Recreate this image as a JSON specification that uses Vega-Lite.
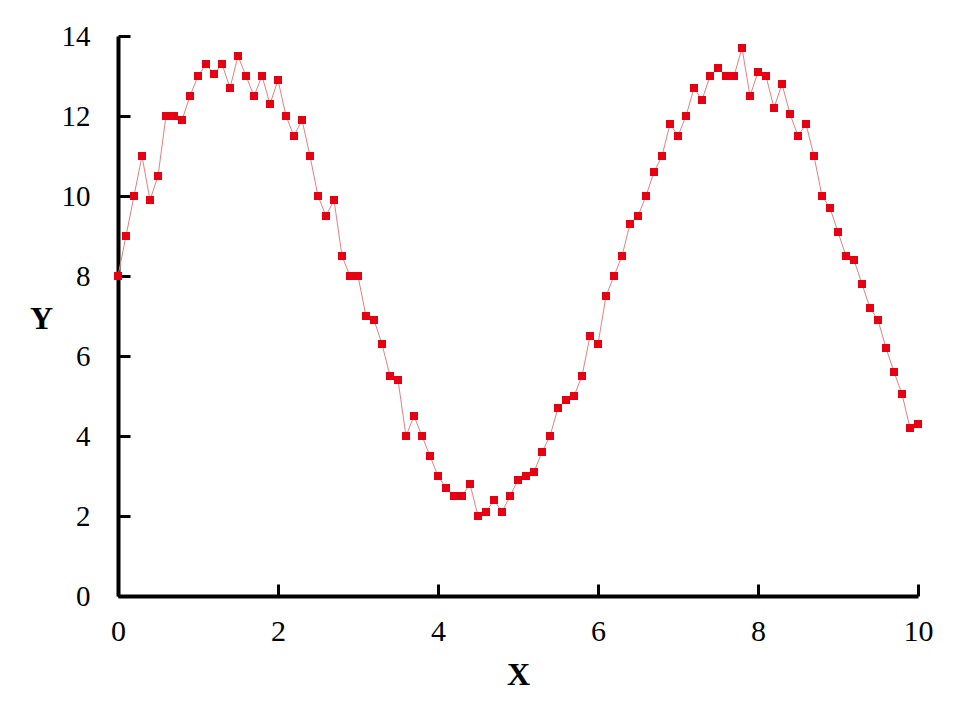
{
  "$schema": "https://vega.github.io/schema/vega-lite/v6.json",
  "width": 800,
  "height": 560,
  "autosize": {"type": "none"},
  "padding": {"left": 118, "top": 36, "right": 42, "bottom": 124},
  "background": "white",
  "config": {"view": {"stroke": null}},
  "data": {"values": [
    {"x": 0.0, "y": 8}, {"x": 0.1, "y": 9}, {"x": 0.2, "y": 10}, {"x": 0.3, "y": 11}, {"x": 0.4, "y": 9.9},
    {"x": 0.5, "y": 10.5}, {"x": 0.6, "y": 12}, {"x": 0.7, "y": 12}, {"x": 0.8, "y": 11.9}, {"x": 0.9, "y": 12.5},
    {"x": 1.0, "y": 13}, {"x": 1.1, "y": 13.3}, {"x": 1.2, "y": 13.05}, {"x": 1.3, "y": 13.3}, {"x": 1.4, "y": 12.7},
    {"x": 1.5, "y": 13.5}, {"x": 1.6, "y": 13}, {"x": 1.7, "y": 12.5}, {"x": 1.8, "y": 13}, {"x": 1.9, "y": 12.3},
    {"x": 2.0, "y": 12.9}, {"x": 2.1, "y": 12}, {"x": 2.2, "y": 11.5}, {"x": 2.3, "y": 11.9}, {"x": 2.4, "y": 11},
    {"x": 2.5, "y": 10}, {"x": 2.6, "y": 9.5}, {"x": 2.7, "y": 9.9}, {"x": 2.8, "y": 8.5}, {"x": 2.9, "y": 8},
    {"x": 3.0, "y": 8}, {"x": 3.1, "y": 7}, {"x": 3.2, "y": 6.9}, {"x": 3.3, "y": 6.3}, {"x": 3.4, "y": 5.5},
    {"x": 3.5, "y": 5.4}, {"x": 3.6, "y": 4}, {"x": 3.7, "y": 4.5}, {"x": 3.8, "y": 4}, {"x": 3.9, "y": 3.5},
    {"x": 4.0, "y": 3}, {"x": 4.1, "y": 2.7}, {"x": 4.2, "y": 2.5}, {"x": 4.3, "y": 2.5}, {"x": 4.4, "y": 2.8},
    {"x": 4.5, "y": 2}, {"x": 4.6, "y": 2.1}, {"x": 4.7, "y": 2.4}, {"x": 4.8, "y": 2.1}, {"x": 4.9, "y": 2.5},
    {"x": 5.0, "y": 2.9}, {"x": 5.1, "y": 3}, {"x": 5.2, "y": 3.1}, {"x": 5.3, "y": 3.6}, {"x": 5.4, "y": 4},
    {"x": 5.5, "y": 4.7}, {"x": 5.6, "y": 4.9}, {"x": 5.7, "y": 5}, {"x": 5.8, "y": 5.5}, {"x": 5.9, "y": 6.5},
    {"x": 6.0, "y": 6.3}, {"x": 6.1, "y": 7.5}, {"x": 6.2, "y": 8}, {"x": 6.3, "y": 8.5}, {"x": 6.4, "y": 9.3},
    {"x": 6.5, "y": 9.5}, {"x": 6.6, "y": 10}, {"x": 6.7, "y": 10.6}, {"x": 6.8, "y": 11}, {"x": 6.9, "y": 11.8},
    {"x": 7.0, "y": 11.5}, {"x": 7.1, "y": 12}, {"x": 7.2, "y": 12.7}, {"x": 7.3, "y": 12.4}, {"x": 7.4, "y": 13},
    {"x": 7.5, "y": 13.2}, {"x": 7.6, "y": 13}, {"x": 7.7, "y": 13}, {"x": 7.8, "y": 13.7}, {"x": 7.9, "y": 12.5},
    {"x": 8.0, "y": 13.1}, {"x": 8.1, "y": 13}, {"x": 8.2, "y": 12.2}, {"x": 8.3, "y": 12.8}, {"x": 8.4, "y": 12.05},
    {"x": 8.5, "y": 11.5}, {"x": 8.6, "y": 11.8}, {"x": 8.7, "y": 11}, {"x": 8.8, "y": 10}, {"x": 8.9, "y": 9.7},
    {"x": 9.0, "y": 9.1}, {"x": 9.1, "y": 8.5}, {"x": 9.2, "y": 8.4}, {"x": 9.3, "y": 7.8}, {"x": 9.4, "y": 7.2},
    {"x": 9.5, "y": 6.9}, {"x": 9.6, "y": 6.2}, {"x": 9.7, "y": 5.6}, {"x": 9.8, "y": 5.05}, {"x": 9.9, "y": 4.2},
    {"x": 10.0, "y": 4.3}
  ]},
  "encoding": {
    "x": {
      "field": "x", "type": "quantitative",
      "scale": {"domain": [0, 10], "nice": false, "zero": false},
      "axis": {
        "title": "X", "values": [0, 2, 4, 6, 8, 10], "grid": false,
        "domainColor": "black", "domainWidth": 4, "tickColor": "black", "tickWidth": 3, "tickSize": -12,
        "labelPadding": 47, "labelFont": "Times New Roman", "labelFontSize": 30, "labelColor": "black",
        "labelFlush": false, "labelBaseline": "middle",
        "titleFont": "Times New Roman", "titleFontSize": 32, "titleFontWeight": "bold", "titleColor": "black",
        "titleY": 78, "titleBaseline": "middle"
      }
    },
    "y": {
      "field": "y", "type": "quantitative",
      "scale": {"domain": [0, 14], "nice": false, "zero": false},
      "axis": {
        "title": "Y", "values": [0, 2, 4, 6, 8, 10, 12, 14], "grid": false,
        "domainColor": "black", "domainWidth": 4, "tickColor": "black", "tickWidth": 3, "tickSize": -12,
        "labelPadding": 40, "labelFont": "Times New Roman", "labelFontSize": 29, "labelColor": "black",
        "labelFlush": false,
        "titleFont": "Times New Roman", "titleFontSize": 32, "titleFontWeight": "bold", "titleColor": "black",
        "titleAngle": 0, "titleX": -77, "titleY": 282, "titleAlign": "center", "titleBaseline": "middle"
      }
    }
  },
  "layer": [
    {"mark": {"type": "line", "color": "#e58080", "strokeWidth": 1}},
    {"mark": {"type": "point", "shape": "square", "filled": true, "size": 64, "color": "#e60012", "opacity": 1}}
  ]
}
